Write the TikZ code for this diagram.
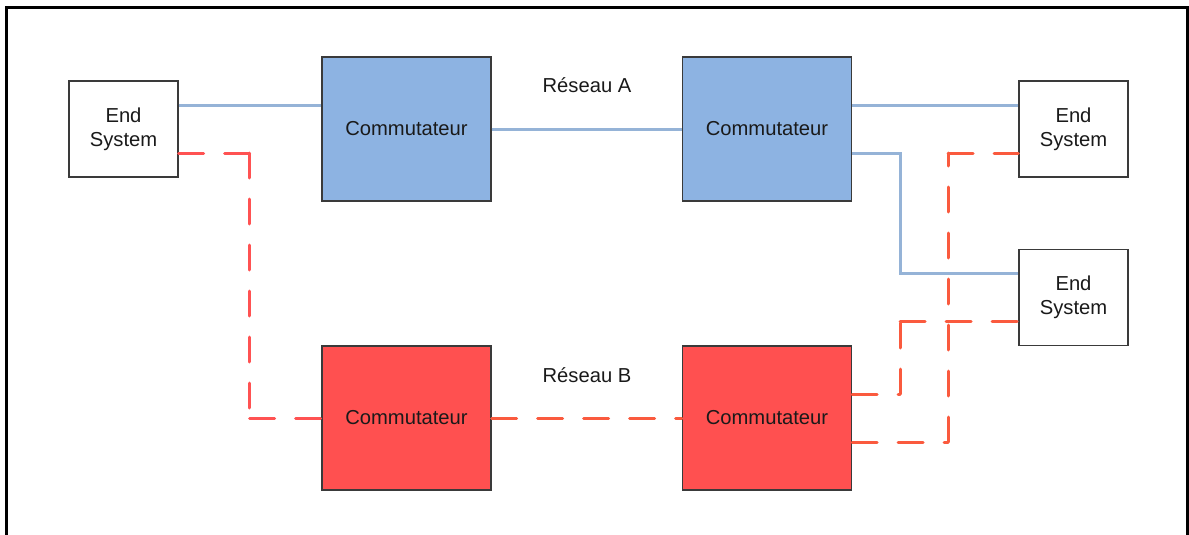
\documentclass[tikz,border=0pt]{standalone}
\usepackage{fontspec}
\setmainfont{Liberation Sans}
\usetikzlibrary{calc}

\definecolor{boxline}{HTML}{3A3A3A}
\definecolor{textcol}{HTML}{1A1A1A}
\definecolor{netAfill}{HTML}{8DB3E2}
\definecolor{netAline}{HTML}{95B3D7}
\definecolor{netBfill}{HTML}{FF5050}
\definecolor{netBline}{HTML}{FF5252}
\definecolor{netBlineB}{HTML}{FA5A3E}

\tikzset{
  labelfont/.style={font=\fontsize{20.2pt}{24pt}\selectfont, text=textcol},
  endsys/.style={draw=boxline, line width=1.2pt, fill=white,
    minimum width=109pt, minimum height=96pt, inner sep=0pt,
    align=center, labelfont},
  switchbox/.style={draw=boxline, line width=1.2pt,
    minimum width=169pt, minimum height=144pt, inner sep=0pt, labelfont},
  switchA/.style={switchbox, fill=netAfill},
  switchB/.style={switchbox, fill=netBfill},
  netlabel/.style={labelfont, inner sep=0pt},
  linkA/.style={draw=netAline, line width=3pt},
  linkB/.style={draw=netBline, line width=3pt, line cap=round,
    dash pattern=on 25pt off 21pt},
  linkBB/.style={linkB, draw=netBlineB},
}

\begin{document}
\begin{tikzpicture}[x=1pt, y=-1pt]
  \useasboundingbox (0,0) rectangle (1189,535);
  \begin{scope}
    \clip (0,0) rectangle (1189,535);
    % open frame around the figure
    \draw[line width=3pt] (6.5,545) -- (6.5,7.5) -- (1187,7.5) -- (1187,545);
  \end{scope}

  % end systems
  \node[endsys] (esL)  at (123.5,129)  {End\\System};
  \node[endsys] (esR1) at (1073.5,129) {End\\System};
  \node[endsys] (esR2) at (1073.5,297.5) {End\\System};

  % network A switches
  \node[switchA] (swA1) at (406.5,129) {Commutateur};
  \node[switchA] (swA2) at (767,129)   {Commutateur};

  % network B switches
  \node[switchB] (swB1) at (406.5,418) {Commutateur};
  \node[switchB] (swB2) at (767,418)   {Commutateur};

  % network names
  \node[netlabel] (labA) at (587,85)  {Réseau A};
  \node[netlabel] (labB) at (587,375) {Réseau B};

  % network A links
  \draw[linkA] ([yshift=24pt]esL.east) -- ([yshift=24pt]swA1.west);
  \draw[linkA] (swA1.east) -- (swA2.west);
  \draw[linkA] ([yshift=24pt]swA2.east) -- ([yshift=24pt]esR1.west);
  \coordinate (a4s) at ([yshift=-24pt]swA2.east);
  \coordinate (a4e) at ([yshift=24pt]esR2.west);
  \draw[linkA] (a4s) -- ++(48,0) |- (a4e);

  % network B links (each segment restarts its dash pattern)
  \coordinate (b1s) at ([yshift=-24pt]esL.east);
  \coordinate (b1a) at ($(b1s)+(71,0)$);
  \coordinate (b1b) at (b1a |- swB1.west);
  \draw[linkB] (b1s) -- (b1a) (b1a) -- (b1b) (b1b) -- (swB1.west);

  \draw[linkBB] (swB1.east) -- (swB2.west);

  \coordinate (b3s) at ([yshift=24pt]swB2.east);
  \coordinate (b3e) at ([yshift=-24pt]esR2.west);
  \coordinate (b3a) at ($(b3s)+(48,0)$);
  \coordinate (b3b) at (b3a |- b3e);
  \draw[linkBB] (b3s) -- (b3a) (b3a) -- (b3b) (b3b) -- (b3e);

  \coordinate (b4s) at ([yshift=-24pt]swB2.east);
  \coordinate (b4e) at ([yshift=-24pt]esR1.west);
  \coordinate (b4a) at ($(b4s)+(96,0)$);
  \coordinate (b4b) at (b4a |- b4e);
  \draw[linkBB] (b4s) -- (b4a) (b4a) -- (b4b) (b4b) -- (b4e);
\end{tikzpicture}
\end{document}
